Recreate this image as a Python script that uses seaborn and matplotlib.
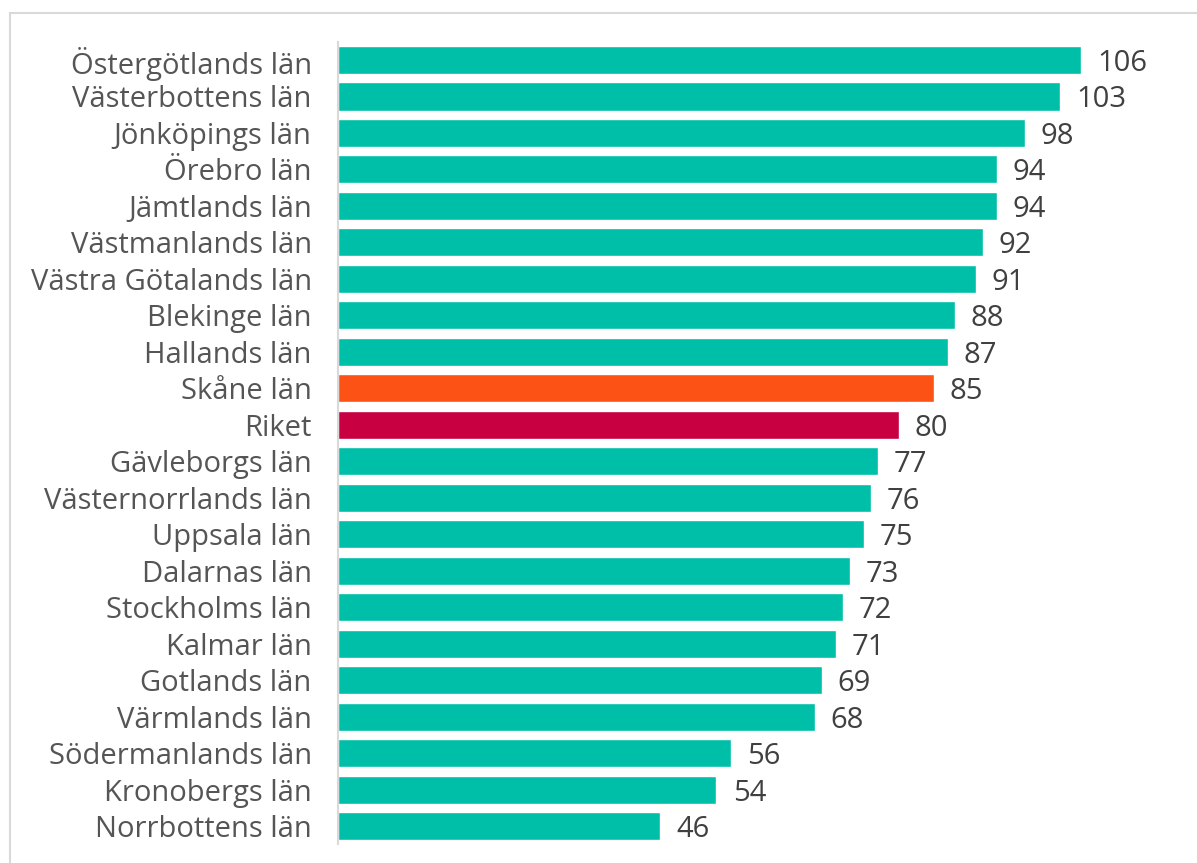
import seaborn as sns
import pandas as pd
import matplotlib.pyplot as plt
from matplotlib.lines import Line2D

# Data
lan = ['Östergötlands län', 'Västerbottens län', 'Jönköpings län', 'Örebro län',
       'Jämtlands län', 'Västmanlands län', 'Västra Götalands län', 'Blekinge län',
       'Hallands län', 'Skåne län', 'Riket', 'Gävleborgs län', 'Västernorrlands län',
       'Uppsala län', 'Dalarnas län', 'Stockholms län', 'Kalmar län', 'Gotlands län',
       'Värmlands län', 'Södermanlands län', 'Kronobergs län', 'Norrbottens län']
varden = [106, 103, 98, 94, 94, 92, 91, 88, 87, 85, 80, 77, 76, 75, 73, 72, 71, 69,
          68, 56, 54, 46]
grupp = ['Län'] * 9 + ['Skåne', 'Riket'] + ['Län'] * 11

df = pd.DataFrame({'Län': lan, 'Värde': varden, 'Grupp': grupp})
farger = {'Län': '#00BFA8', 'Skåne': '#FC5216', 'Riket': '#C80041'}

sns.set_theme(style='white')
plt.rcParams['font.family'] = ['Open Sans', 'DejaVu Sans']

fig = plt.figure(figsize=(11.97, 8.63), dpi=100)
ax = fig.add_axes([0.2824, 0.0217, 0.7026, 0.9299])

sns.barplot(data=df, y='Län', x='Värde', hue='Grupp', palette=farger,
            orient='h', width=0.77, dodge=False, legend=False, ax=ax,
            saturation=1)

for i, v in enumerate(varden):
    ax.text(v + 2.3, i, str(v), va='center_baseline', ha='left', fontsize=21,
            color='#404040')

ax.set_xlim(0, 120)
ax.set_ylim(len(lan) - 0.5, -0.5)
ax.set_xlabel('')
ax.set_ylabel('')
ax.set_xticks([])
ax.tick_params(axis='y', length=0, pad=19, labelsize=21, labelcolor='#555555')
for lbl in ax.get_yticklabels():
    lbl.set_verticalalignment('center_baseline')
for s in ['top', 'right', 'bottom']:
    ax.spines[s].set_visible(False)
ax.spines['left'].set_color('#D9D9D9')
ax.spines['left'].set_linewidth(1.5)

# ram runt diagrammet (bara topp och vänster syns)
fig.add_artist(Line2D([10 / 1197, 1], [1 - 13 / 863, 1 - 13 / 863], color='#D9D9D9', lw=1.5))
fig.add_artist(Line2D([10 / 1197, 10 / 1197], [0, 1 - 13 / 863], color='#D9D9D9', lw=1.5))

fig.savefig('out.png', dpi=100)
